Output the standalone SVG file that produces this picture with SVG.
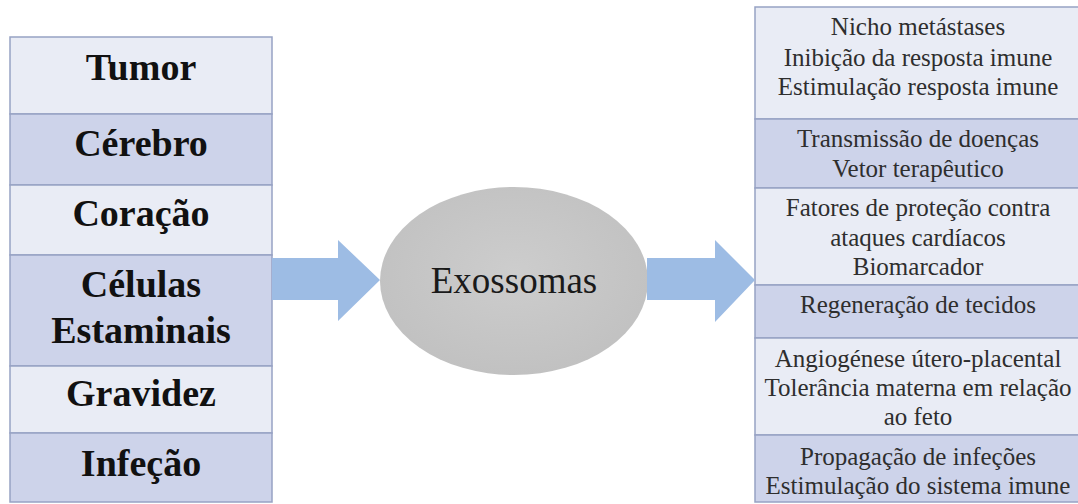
<svg xmlns="http://www.w3.org/2000/svg" width="1078" height="504" viewBox="0 0 1078 504">
  <style>
    .light { fill: #e9ecf5; }
    .dark { fill: #cdd3ea; }
    .cell { stroke: #97a2c4; stroke-width: 1.5; }
    text { font-family: 'Liberation Serif', 'Times New Roman', serif; text-anchor: middle; }
    .src { font-weight: bold; font-size: 38px; fill: #111111; }
    .eff { font-size: 25px; fill: #2e2e2e; }
    .hub { font-size: 37px; fill: #1a1a1a; }
    .block { fill: #9dbce4; }
  </style>
  <defs>
    <radialGradient id="hubFill" cx="50%" cy="45%" r="60%">
      <stop offset="0" stop-color="#cdcdcd"/>
      <stop offset="1" stop-color="#c0c0c0"/>
    </radialGradient>
  </defs>
  <rect width="1078" height="504" fill="#ffffff"/>

  <!-- Sources -->
  <g id="src-tumor">
    <rect class="light cell" x="10" y="37" width="262" height="77"/>
    <text class="src" x="141" y="80">Tumor</text>
  </g>
  <g id="src-cerebro">
    <rect class="dark cell" x="10" y="114" width="262" height="71"/>
    <text class="src" x="141" y="156">Cérebro</text>
  </g>
  <g id="src-coracao">
    <rect class="light cell" x="10" y="185" width="262" height="70"/>
    <text class="src" x="141" y="226">Coração</text>
  </g>
  <g id="src-celulas">
    <rect class="dark cell" x="10" y="255" width="262" height="111"/>
    <text class="src" x="141" y="297">Células</text>
    <text class="src" x="141" y="343">Estaminais</text>
  </g>
  <g id="src-gravidez">
    <rect class="light cell" x="10" y="366" width="262" height="67"/>
    <text class="src" x="141" y="406">Gravidez</text>
  </g>
  <g id="src-infecao">
    <rect class="dark cell" x="10" y="433" width="262" height="69"/>
    <text class="src" x="141" y="476">Infeção</text>
  </g>

  <!-- Central node -->
  <g id="exossomas">
    <ellipse cx="514" cy="281" rx="134" ry="94" fill="url(#hubFill)"/>
    <text class="hub" x="514" y="293">Exossomas</text>
  </g>

  <!-- Effects -->
  <g id="eff-tumor">
    <rect class="light cell" x="755" y="7" width="330" height="112"/>
    <text class="eff" x="918" y="35">Nicho metástases</text>
    <text class="eff" x="918" y="66">Inibição da resposta imune</text>
    <text class="eff" x="918" y="95">Estimulação resposta imune</text>
  </g>
  <g id="eff-cerebro">
    <rect class="dark cell" x="755" y="119" width="330" height="69"/>
    <text class="eff" x="918" y="147">Transmissão de doenças</text>
    <text class="eff" x="918" y="177">Vetor terapêutico</text>
  </g>
  <g id="eff-coracao">
    <rect class="light cell" x="755" y="188" width="330" height="97"/>
    <text class="eff" x="918" y="216">Fatores de proteção contra</text>
    <text class="eff" x="918" y="246">ataques cardíacos</text>
    <text class="eff" x="918" y="275">Biomarcador</text>
  </g>
  <g id="eff-celulas">
    <rect class="dark cell" x="755" y="285" width="330" height="53"/>
    <text class="eff" x="918" y="313">Regeneração de tecidos</text>
  </g>
  <g id="eff-gravidez">
    <rect class="light cell" x="755" y="338" width="330" height="97"/>
    <text class="eff" x="918" y="367">Angiogénese útero-placental</text>
    <text class="eff" x="918" y="396">Tolerância materna em relação</text>
    <text class="eff" x="918" y="425">ao feto</text>
  </g>
  <g id="eff-infecao">
    <rect class="dark cell" x="755" y="435" width="330" height="67"/>
    <text class="eff" x="918" y="465">Propagação de infeções</text>
    <text class="eff" x="918" y="494">Estimulação do sistema imune</text>
  </g>

  <!-- Connectors: block arrows -->
  <g id="connectors">
    <path class="block" d="M272,258 H338 V240 L380,280 L338,321 V300 H272 Z"/>
    <path class="block" d="M647,258 H715 V240 L755,280 L715,322 V300 H647 Z"/>
  </g>
</svg>
